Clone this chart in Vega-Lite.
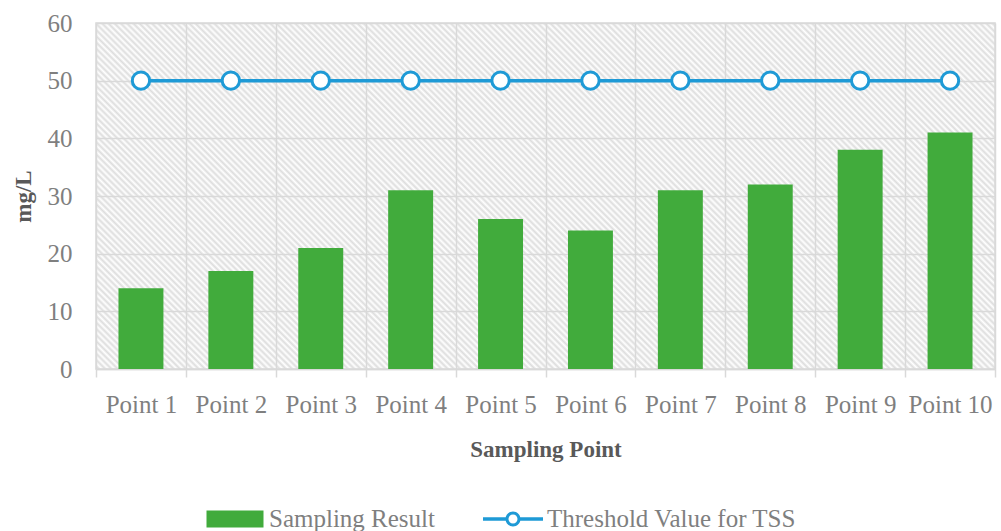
{
  "$schema": "https://vega.github.io/schema/vega-lite/v6.json",
  "width": 899,
  "height": 346,
  "autosize": {"type": "none"},
  "padding": {"left": 96, "top": 23, "right": 6, "bottom": 162},
  "background": "white",
  "view": {
    "stroke": "#d9d9d9",
    "strokeWidth": 1.5,
    "fill": {
      "gradient": "linear",
      "x1": 0, "y1": 1, "x2": 1.2065, "y2": 0.5355,
      "stops": [
{"offset":0,"color":"#fff"},{"offset":0.0025,"color":"#ddd"},{"offset":0.005,"color":"#fff"},{"offset":0.0075,"color":"#ddd"},
{"offset":0.01,"color":"#fff"},{"offset":0.0125,"color":"#ddd"},{"offset":0.015,"color":"#fff"},{"offset":0.0175,"color":"#ddd"},
{"offset":0.02,"color":"#fff"},{"offset":0.0225,"color":"#ddd"},{"offset":0.025,"color":"#fff"},{"offset":0.0275,"color":"#ddd"},
{"offset":0.03,"color":"#fff"},{"offset":0.0325,"color":"#ddd"},{"offset":0.035,"color":"#fff"},{"offset":0.0375,"color":"#ddd"},
{"offset":0.04,"color":"#fff"},{"offset":0.0425,"color":"#ddd"},{"offset":0.045,"color":"#fff"},{"offset":0.0475,"color":"#ddd"},
{"offset":0.05,"color":"#fff"},{"offset":0.0525,"color":"#ddd"},{"offset":0.055,"color":"#fff"},{"offset":0.0575,"color":"#ddd"},
{"offset":0.06,"color":"#fff"},{"offset":0.0625,"color":"#ddd"},{"offset":0.065,"color":"#fff"},{"offset":0.0675,"color":"#ddd"},
{"offset":0.07,"color":"#fff"},{"offset":0.0725,"color":"#ddd"},{"offset":0.075,"color":"#fff"},{"offset":0.0775,"color":"#ddd"},
{"offset":0.08,"color":"#fff"},{"offset":0.0825,"color":"#ddd"},{"offset":0.085,"color":"#fff"},{"offset":0.0875,"color":"#ddd"},
{"offset":0.09,"color":"#fff"},{"offset":0.0925,"color":"#ddd"},{"offset":0.095,"color":"#fff"},{"offset":0.0975,"color":"#ddd"},
{"offset":0.1,"color":"#fff"},{"offset":0.1025,"color":"#ddd"},{"offset":0.105,"color":"#fff"},{"offset":0.1075,"color":"#ddd"},
{"offset":0.11,"color":"#fff"},{"offset":0.1125,"color":"#ddd"},{"offset":0.115,"color":"#fff"},{"offset":0.1175,"color":"#ddd"},
{"offset":0.12,"color":"#fff"},{"offset":0.1225,"color":"#ddd"},{"offset":0.125,"color":"#fff"},{"offset":0.1275,"color":"#ddd"},
{"offset":0.13,"color":"#fff"},{"offset":0.1325,"color":"#ddd"},{"offset":0.135,"color":"#fff"},{"offset":0.1375,"color":"#ddd"},
{"offset":0.14,"color":"#fff"},{"offset":0.1425,"color":"#ddd"},{"offset":0.145,"color":"#fff"},{"offset":0.1475,"color":"#ddd"},
{"offset":0.15,"color":"#fff"},{"offset":0.1525,"color":"#ddd"},{"offset":0.155,"color":"#fff"},{"offset":0.1575,"color":"#ddd"},
{"offset":0.16,"color":"#fff"},{"offset":0.1625,"color":"#ddd"},{"offset":0.165,"color":"#fff"},{"offset":0.1675,"color":"#ddd"},
{"offset":0.17,"color":"#fff"},{"offset":0.1725,"color":"#ddd"},{"offset":0.175,"color":"#fff"},{"offset":0.1775,"color":"#ddd"},
{"offset":0.18,"color":"#fff"},{"offset":0.1825,"color":"#ddd"},{"offset":0.185,"color":"#fff"},{"offset":0.1875,"color":"#ddd"},
{"offset":0.19,"color":"#fff"},{"offset":0.1925,"color":"#ddd"},{"offset":0.195,"color":"#fff"},{"offset":0.1975,"color":"#ddd"},
{"offset":0.2,"color":"#fff"},{"offset":0.2025,"color":"#ddd"},{"offset":0.205,"color":"#fff"},{"offset":0.2075,"color":"#ddd"},
{"offset":0.21,"color":"#fff"},{"offset":0.2125,"color":"#ddd"},{"offset":0.215,"color":"#fff"},{"offset":0.2175,"color":"#ddd"},
{"offset":0.22,"color":"#fff"},{"offset":0.2225,"color":"#ddd"},{"offset":0.225,"color":"#fff"},{"offset":0.2275,"color":"#ddd"},
{"offset":0.23,"color":"#fff"},{"offset":0.2325,"color":"#ddd"},{"offset":0.235,"color":"#fff"},{"offset":0.2375,"color":"#ddd"},
{"offset":0.24,"color":"#fff"},{"offset":0.2425,"color":"#ddd"},{"offset":0.245,"color":"#fff"},{"offset":0.2475,"color":"#ddd"},
{"offset":0.25,"color":"#fff"},{"offset":0.2525,"color":"#ddd"},{"offset":0.255,"color":"#fff"},{"offset":0.2575,"color":"#ddd"},
{"offset":0.26,"color":"#fff"},{"offset":0.2625,"color":"#ddd"},{"offset":0.265,"color":"#fff"},{"offset":0.2675,"color":"#ddd"},
{"offset":0.27,"color":"#fff"},{"offset":0.2725,"color":"#ddd"},{"offset":0.275,"color":"#fff"},{"offset":0.2775,"color":"#ddd"},
{"offset":0.28,"color":"#fff"},{"offset":0.2825,"color":"#ddd"},{"offset":0.285,"color":"#fff"},{"offset":0.2875,"color":"#ddd"},
{"offset":0.29,"color":"#fff"},{"offset":0.2925,"color":"#ddd"},{"offset":0.295,"color":"#fff"},{"offset":0.2975,"color":"#ddd"},
{"offset":0.3,"color":"#fff"},{"offset":0.3025,"color":"#ddd"},{"offset":0.305,"color":"#fff"},{"offset":0.3075,"color":"#ddd"},
{"offset":0.31,"color":"#fff"},{"offset":0.3125,"color":"#ddd"},{"offset":0.315,"color":"#fff"},{"offset":0.3175,"color":"#ddd"},
{"offset":0.32,"color":"#fff"},{"offset":0.3225,"color":"#ddd"},{"offset":0.325,"color":"#fff"},{"offset":0.3275,"color":"#ddd"},
{"offset":0.33,"color":"#fff"},{"offset":0.3325,"color":"#ddd"},{"offset":0.335,"color":"#fff"},{"offset":0.3375,"color":"#ddd"},
{"offset":0.34,"color":"#fff"},{"offset":0.3425,"color":"#ddd"},{"offset":0.345,"color":"#fff"},{"offset":0.3475,"color":"#ddd"},
{"offset":0.35,"color":"#fff"},{"offset":0.3525,"color":"#ddd"},{"offset":0.355,"color":"#fff"},{"offset":0.3575,"color":"#ddd"},
{"offset":0.36,"color":"#fff"},{"offset":0.3625,"color":"#ddd"},{"offset":0.365,"color":"#fff"},{"offset":0.3675,"color":"#ddd"},
{"offset":0.37,"color":"#fff"},{"offset":0.3725,"color":"#ddd"},{"offset":0.375,"color":"#fff"},{"offset":0.3775,"color":"#ddd"},
{"offset":0.38,"color":"#fff"},{"offset":0.3825,"color":"#ddd"},{"offset":0.385,"color":"#fff"},{"offset":0.3875,"color":"#ddd"},
{"offset":0.39,"color":"#fff"},{"offset":0.3925,"color":"#ddd"},{"offset":0.395,"color":"#fff"},{"offset":0.3975,"color":"#ddd"},
{"offset":0.4,"color":"#fff"},{"offset":0.4025,"color":"#ddd"},{"offset":0.405,"color":"#fff"},{"offset":0.4075,"color":"#ddd"},
{"offset":0.41,"color":"#fff"},{"offset":0.4125,"color":"#ddd"},{"offset":0.415,"color":"#fff"},{"offset":0.4175,"color":"#ddd"},
{"offset":0.42,"color":"#fff"},{"offset":0.4225,"color":"#ddd"},{"offset":0.425,"color":"#fff"},{"offset":0.4275,"color":"#ddd"},
{"offset":0.43,"color":"#fff"},{"offset":0.4325,"color":"#ddd"},{"offset":0.435,"color":"#fff"},{"offset":0.4375,"color":"#ddd"},
{"offset":0.44,"color":"#fff"},{"offset":0.4425,"color":"#ddd"},{"offset":0.445,"color":"#fff"},{"offset":0.4475,"color":"#ddd"},
{"offset":0.45,"color":"#fff"},{"offset":0.4525,"color":"#ddd"},{"offset":0.455,"color":"#fff"},{"offset":0.4575,"color":"#ddd"},
{"offset":0.46,"color":"#fff"},{"offset":0.4625,"color":"#ddd"},{"offset":0.465,"color":"#fff"},{"offset":0.4675,"color":"#ddd"},
{"offset":0.47,"color":"#fff"},{"offset":0.4725,"color":"#ddd"},{"offset":0.475,"color":"#fff"},{"offset":0.4775,"color":"#ddd"},
{"offset":0.48,"color":"#fff"},{"offset":0.4825,"color":"#ddd"},{"offset":0.485,"color":"#fff"},{"offset":0.4875,"color":"#ddd"},
{"offset":0.49,"color":"#fff"},{"offset":0.4925,"color":"#ddd"},{"offset":0.495,"color":"#fff"},{"offset":0.4975,"color":"#ddd"},
{"offset":0.5,"color":"#fff"},{"offset":0.5025,"color":"#ddd"},{"offset":0.505,"color":"#fff"},{"offset":0.5075,"color":"#ddd"},
{"offset":0.51,"color":"#fff"},{"offset":0.5125,"color":"#ddd"},{"offset":0.515,"color":"#fff"},{"offset":0.5175,"color":"#ddd"},
{"offset":0.52,"color":"#fff"},{"offset":0.5225,"color":"#ddd"},{"offset":0.525,"color":"#fff"},{"offset":0.5275,"color":"#ddd"},
{"offset":0.53,"color":"#fff"},{"offset":0.5325,"color":"#ddd"},{"offset":0.535,"color":"#fff"},{"offset":0.5375,"color":"#ddd"},
{"offset":0.54,"color":"#fff"},{"offset":0.5425,"color":"#ddd"},{"offset":0.545,"color":"#fff"},{"offset":0.5475,"color":"#ddd"},
{"offset":0.55,"color":"#fff"},{"offset":0.5525,"color":"#ddd"},{"offset":0.555,"color":"#fff"},{"offset":0.5575,"color":"#ddd"},
{"offset":0.56,"color":"#fff"},{"offset":0.5625,"color":"#ddd"},{"offset":0.565,"color":"#fff"},{"offset":0.5675,"color":"#ddd"},
{"offset":0.57,"color":"#fff"},{"offset":0.5725,"color":"#ddd"},{"offset":0.575,"color":"#fff"},{"offset":0.5775,"color":"#ddd"},
{"offset":0.58,"color":"#fff"},{"offset":0.5825,"color":"#ddd"},{"offset":0.585,"color":"#fff"},{"offset":0.5875,"color":"#ddd"},
{"offset":0.59,"color":"#fff"},{"offset":0.5925,"color":"#ddd"},{"offset":0.595,"color":"#fff"},{"offset":0.5975,"color":"#ddd"},
{"offset":0.6,"color":"#fff"},{"offset":0.6025,"color":"#ddd"},{"offset":0.605,"color":"#fff"},{"offset":0.6075,"color":"#ddd"},
{"offset":0.61,"color":"#fff"},{"offset":0.6125,"color":"#ddd"},{"offset":0.615,"color":"#fff"},{"offset":0.6175,"color":"#ddd"},
{"offset":0.62,"color":"#fff"},{"offset":0.6225,"color":"#ddd"},{"offset":0.625,"color":"#fff"},{"offset":0.6275,"color":"#ddd"},
{"offset":0.63,"color":"#fff"},{"offset":0.6325,"color":"#ddd"},{"offset":0.635,"color":"#fff"},{"offset":0.6375,"color":"#ddd"},
{"offset":0.64,"color":"#fff"},{"offset":0.6425,"color":"#ddd"},{"offset":0.645,"color":"#fff"},{"offset":0.6475,"color":"#ddd"},
{"offset":0.65,"color":"#fff"},{"offset":0.6525,"color":"#ddd"},{"offset":0.655,"color":"#fff"},{"offset":0.6575,"color":"#ddd"},
{"offset":0.66,"color":"#fff"},{"offset":0.6625,"color":"#ddd"},{"offset":0.665,"color":"#fff"},{"offset":0.6675,"color":"#ddd"},
{"offset":0.67,"color":"#fff"},{"offset":0.6725,"color":"#ddd"},{"offset":0.675,"color":"#fff"},{"offset":0.6775,"color":"#ddd"},
{"offset":0.68,"color":"#fff"},{"offset":0.6825,"color":"#ddd"},{"offset":0.685,"color":"#fff"},{"offset":0.6875,"color":"#ddd"},
{"offset":0.69,"color":"#fff"},{"offset":0.6925,"color":"#ddd"},{"offset":0.695,"color":"#fff"},{"offset":0.6975,"color":"#ddd"},
{"offset":0.7,"color":"#fff"},{"offset":0.7025,"color":"#ddd"},{"offset":0.705,"color":"#fff"},{"offset":0.7075,"color":"#ddd"},
{"offset":0.71,"color":"#fff"},{"offset":0.7125,"color":"#ddd"},{"offset":0.715,"color":"#fff"},{"offset":0.7175,"color":"#ddd"},
{"offset":0.72,"color":"#fff"},{"offset":0.7225,"color":"#ddd"},{"offset":0.725,"color":"#fff"},{"offset":0.7275,"color":"#ddd"},
{"offset":0.73,"color":"#fff"},{"offset":0.7325,"color":"#ddd"},{"offset":0.735,"color":"#fff"},{"offset":0.7375,"color":"#ddd"},
{"offset":0.74,"color":"#fff"},{"offset":0.7425,"color":"#ddd"},{"offset":0.745,"color":"#fff"},{"offset":0.7475,"color":"#ddd"},
{"offset":0.75,"color":"#fff"},{"offset":0.7525,"color":"#ddd"},{"offset":0.755,"color":"#fff"},{"offset":0.7575,"color":"#ddd"},
{"offset":0.76,"color":"#fff"},{"offset":0.7625,"color":"#ddd"},{"offset":0.765,"color":"#fff"},{"offset":0.7675,"color":"#ddd"},
{"offset":0.77,"color":"#fff"},{"offset":0.7725,"color":"#ddd"},{"offset":0.775,"color":"#fff"},{"offset":0.7775,"color":"#ddd"},
{"offset":0.78,"color":"#fff"},{"offset":0.7825,"color":"#ddd"},{"offset":0.785,"color":"#fff"},{"offset":0.7875,"color":"#ddd"},
{"offset":0.79,"color":"#fff"},{"offset":0.7925,"color":"#ddd"},{"offset":0.795,"color":"#fff"},{"offset":0.7975,"color":"#ddd"},
{"offset":0.8,"color":"#fff"},{"offset":0.8025,"color":"#ddd"},{"offset":0.805,"color":"#fff"},{"offset":0.8075,"color":"#ddd"},
{"offset":0.81,"color":"#fff"},{"offset":0.8125,"color":"#ddd"},{"offset":0.815,"color":"#fff"},{"offset":0.8175,"color":"#ddd"},
{"offset":0.82,"color":"#fff"},{"offset":0.8225,"color":"#ddd"},{"offset":0.825,"color":"#fff"},{"offset":0.8275,"color":"#ddd"},
{"offset":0.83,"color":"#fff"},{"offset":0.8325,"color":"#ddd"},{"offset":0.835,"color":"#fff"},{"offset":0.8375,"color":"#ddd"},
{"offset":0.84,"color":"#fff"},{"offset":0.8425,"color":"#ddd"},{"offset":0.845,"color":"#fff"},{"offset":0.8475,"color":"#ddd"},
{"offset":0.85,"color":"#fff"},{"offset":0.8525,"color":"#ddd"},{"offset":0.855,"color":"#fff"},{"offset":0.8575,"color":"#ddd"},
{"offset":0.86,"color":"#fff"},{"offset":0.8625,"color":"#ddd"},{"offset":0.865,"color":"#fff"},{"offset":0.8675,"color":"#ddd"},
{"offset":0.87,"color":"#fff"},{"offset":0.8725,"color":"#ddd"},{"offset":0.875,"color":"#fff"},{"offset":0.8775,"color":"#ddd"},
{"offset":0.88,"color":"#fff"},{"offset":0.8825,"color":"#ddd"},{"offset":0.885,"color":"#fff"},{"offset":0.8875,"color":"#ddd"},
{"offset":0.89,"color":"#fff"},{"offset":0.8925,"color":"#ddd"},{"offset":0.895,"color":"#fff"},{"offset":0.8975,"color":"#ddd"},
{"offset":0.9,"color":"#fff"},{"offset":0.9025,"color":"#ddd"},{"offset":0.905,"color":"#fff"},{"offset":0.9075,"color":"#ddd"},
{"offset":0.91,"color":"#fff"},{"offset":0.9125,"color":"#ddd"},{"offset":0.915,"color":"#fff"},{"offset":0.9175,"color":"#ddd"},
{"offset":0.92,"color":"#fff"},{"offset":0.9225,"color":"#ddd"},{"offset":0.925,"color":"#fff"},{"offset":0.9275,"color":"#ddd"},
{"offset":0.93,"color":"#fff"},{"offset":0.9325,"color":"#ddd"},{"offset":0.935,"color":"#fff"},{"offset":0.9375,"color":"#ddd"},
{"offset":0.94,"color":"#fff"},{"offset":0.9425,"color":"#ddd"},{"offset":0.945,"color":"#fff"},{"offset":0.9475,"color":"#ddd"},
{"offset":0.95,"color":"#fff"},{"offset":0.9525,"color":"#ddd"},{"offset":0.955,"color":"#fff"},{"offset":0.9575,"color":"#ddd"},
{"offset":0.96,"color":"#fff"},{"offset":0.9625,"color":"#ddd"},{"offset":0.965,"color":"#fff"},{"offset":0.9675,"color":"#ddd"},
{"offset":0.97,"color":"#fff"},{"offset":0.9725,"color":"#ddd"},{"offset":0.975,"color":"#fff"},{"offset":0.9775,"color":"#ddd"},
{"offset":0.98,"color":"#fff"},{"offset":0.9825,"color":"#ddd"},{"offset":0.985,"color":"#fff"},{"offset":0.9875,"color":"#ddd"},
{"offset":0.99,"color":"#fff"},{"offset":0.9925,"color":"#ddd"},{"offset":0.995,"color":"#fff"},{"offset":0.9975,"color":"#ddd"},
{"offset":1,"color":"#fff"}
      ]
    }
  },
  "config": {
    "font": "Liberation Serif",
    "axis": {
      "labelFont": "Liberation Serif",
      "labelFontSize": 25,
      "labelColor": "#7f7f7f",
      "titleFont": "Liberation Serif",
      "titleFontSize": 23,
      "titleFontWeight": "bold",
      "titleColor": "#595959",
      "gridColor": "#d9d9d9",
      "gridWidth": 1.5,
      "domainColor": "#d9d9d9",
      "tickColor": "#d9d9d9",
      "labelOverlap": false
    },
    "legend": {
      "labelFont": "Liberation Serif",
      "labelFontSize": 25,
      "labelColor": "#7f7f7f",
      "labelLimit": 0
    }
  },
  "data": {
    "values": [
      {"point": "Point 1", "result": 14, "threshold": 50},
      {"point": "Point 2", "result": 17, "threshold": 50},
      {"point": "Point 3", "result": 21, "threshold": 50},
      {"point": "Point 4", "result": 31, "threshold": 50},
      {"point": "Point 5", "result": 26, "threshold": 50},
      {"point": "Point 6", "result": 24, "threshold": 50},
      {"point": "Point 7", "result": 31, "threshold": 50},
      {"point": "Point 8", "result": 32, "threshold": 50},
      {"point": "Point 9", "result": 38, "threshold": 50},
      {"point": "Point 10", "result": 41, "threshold": 50}
    ]
  },
  "encoding": {
    "x": {
      "field": "point",
      "type": "nominal",
      "sort": null,
      "scale": {"paddingInner": 0, "paddingOuter": 0},
      "axis": {
        "title": "Sampling Point",
        "labelAngle": 0,
        "tickBand": "extent",
        "grid": true,
        "ticks": true,
        "tickSize": 8,
        "tickWidth": 1.5,
        "domain": true,
        "domainWidth": 1.5,
        "labelPadding": 15,
        "titlePadding": 21
      }
    }
  },
  "layer": [
    {
      "mark": {"type": "bar", "width": {"band": 0.5}},
      "encoding": {
        "y": {
          "field": "result",
          "type": "quantitative",
          "scale": {"domain": [0, 60]},
          "axis": {
            "title": "mg/L",
            "values": [0, 10, 20, 30, 40, 50, 60],
            "grid": true,
            "ticks": false,
            "domain": false,
            "labelPadding": 24,
            "titlePadding": 12
          }
        },
        "color": {
          "datum": "Sampling Result",
          "type": "nominal",
          "scale": {
            "domain": ["Sampling Result", "Threshold Value for TSS"],
            "range": ["#41ab3c", "#1e9ad6"]
          },
          "legend": {
            "title": null,
            "orient": "none",
            "direction": "horizontal",
            "legendX": 109,
            "legendY": 466,
            "symbolSize": 3600,
            "labelOffset": 4,
            "columnPadding": 48,
            "symbolStrokeWidth": 0,
            "encode": {
              "symbols": {
                "update": {
                  "shape": {"signal": "datum.value === 'Sampling Result' ? 'M-0.95,-0.28H0.95V0.28H-0.95Z' : 'M-1,-0.06H-0.22V0.06H-1Z M0.22,-0.06H1V0.06H0.22Z M0.25,0A0.25,0.25 0 1,1 -0.25,0A0.25,0.25 0 1,1 0.25,0Z M0.15,0A0.15,0.15 0 1,0 -0.15,0A0.15,0.15 0 1,0 0.15,0Z'"},
                  "fill": {"signal": "datum.value === 'Sampling Result' ? '#41ab3c' : '#1e9ad6'"},
                  "strokeWidth": {"value": 0},
                  "opacity": {"value": 1},
                  "fillOpacity": {"value": 1}
                }
              }
            }
          }
        }
      }
    },
    {
      "mark": {
        "type": "line",
        "strokeWidth": 3.5,
        "point": {"filled": false, "fill": "white", "size": 300, "strokeWidth": 3, "opacity": 1}
      },
      "encoding": {
        "y": {
          "field": "threshold",
          "type": "quantitative",
          "scale": {"domain": [0, 60]},
          "axis": {
            "title": "mg/L",
            "values": [0, 10, 20, 30, 40, 50, 60],
            "grid": true,
            "ticks": false,
            "domain": false,
            "labelPadding": 24,
            "titlePadding": 12
          }
        },
        "color": {"datum": "Threshold Value for TSS", "type": "nominal"}
      }
    }
  ]
}
